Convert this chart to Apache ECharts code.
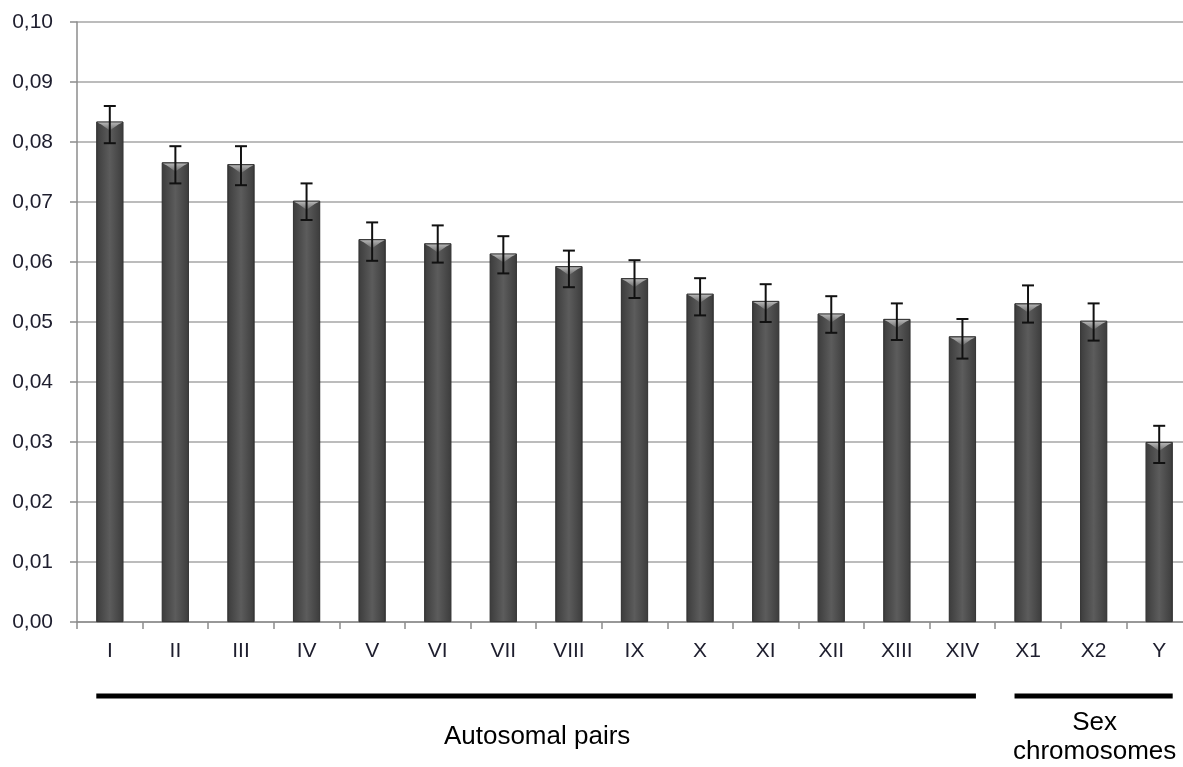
<!DOCTYPE html>
<html>
<head>
<meta charset="utf-8">
<script src="https://cdn.jsdelivr.net/npm/echarts@6/dist/echarts.min.js"></script>
<style>
html,body{margin:0;padding:0;background:#fff;overflow:hidden;width:1183px;height:767px;}
#chart{width:1192px;height:767px;}
</style>
</head>
<body>
<div id="chart"></div>
<script>
var categories = ['I','II','III','IV','V','VI','VII','VIII','IX','X','XI','XII','XIII','XIV','X1','X2','Y'];
var values     = [0.0834,0.0766,0.0763,0.0702,0.0638,0.0631,0.0614,0.0593,0.0573,0.0547,0.0535,0.0514,0.0505,0.0476,0.0531,0.0502,0.0300];
var errHigh    = [0.0860,0.0793,0.0793,0.0731,0.0666,0.0661,0.0643,0.0619,0.0603,0.0573,0.0563,0.0543,0.0531,0.0505,0.0561,0.0531,0.0327];
var errLow     = [0.0798,0.0731,0.0728,0.0670,0.0602,0.0599,0.0581,0.0558,0.0540,0.0511,0.0500,0.0482,0.0470,0.0439,0.0499,0.0469,0.0265];
var yTicks = {min:0, max:0.1, interval:0.01};
var groups = [
  {name:'Autosomal pairs', from:'I', to:'XIV'},
  {name:'Sex\nchromosomes', from:'X1', to:'Y'}
];

var BAR_W = 27;
var FONT = '"Liberation Sans", Arial, sans-serif';

var chart = echarts.init(document.getElementById('chart'));

var option = {
  animation:false,
  backgroundColor:'#fff',
  grid:{left:77, right:0, top:22, bottom:145, containLabel:false},
  xAxis:{
    type:'category',
    data:categories,
    boundaryGap:true,
    axisLine:{show:true, lineStyle:{color:'#8c8c8c', width:1.5}},
    axisTick:{show:true, length:7, lineStyle:{color:'#8c8c8c', width:1.5}},
    axisLabel:{color:'#1e1e2e', fontFamily:FONT, fontSize:21, margin:19}
  },
  yAxis:{
    type:'value',
    min:yTicks.min, max:yTicks.max, interval:yTicks.interval,
    axisLine:{show:true, lineStyle:{color:'#8c8c8c', width:1.5}},
    axisTick:{show:true, length:7, lineStyle:{color:'#8c8c8c', width:1.5}},
    splitLine:{show:true, lineStyle:{color:'#a6a6a6', width:1.5}},
    axisLabel:{color:'#1e1e2e', fontFamily:FONT, fontSize:21, margin:24,
      formatter:function(v){return v.toFixed(2).replace('.',',');}}
  },
  series:[
    {
      type:'bar',
      data:values,
      barWidth:BAR_W,
      itemStyle:{
        color:new echarts.graphic.LinearGradient(0,0,1,0,[
          {offset:0,color:'#3c3c3c'},
          {offset:0.5,color:'#5c5c5c'},
          {offset:1,color:'#3c3c3c'}
        ]),
        borderColor:'#333',
        borderWidth:0.8
      },
      z:2
    },
    {
      type:'custom',
      data:values.map(function(v,i){return [i,v];}),
      z:3,
      renderItem:function(params, api){
        var p = api.coord([api.value(0), api.value(1)]);
        var hw = BAR_W/2 - 1;
        return {
          type:'polygon',
          shape:{points:[[p[0]-hw,p[1]+1],[p[0]+hw,p[1]+1],[p[0]+hw-4,p[1]+3],[p[0],p[1]+9],[p[0]-hw+4,p[1]+3]]},
          style:{fill:new echarts.graphic.LinearGradient(0,0,0,1,[
            {offset:0,color:'#b4b4b4'},{offset:1,color:'#6a6a6a'}])}
        };
      }
    },
    {
      type:'custom',
      data:categories.map(function(c,i){return [i, errLow[i], errHigh[i]];}),
      z:4,
      renderItem:function(params, api){
        var lo = api.coord([api.value(0), api.value(1)]);
        var hi = api.coord([api.value(0), api.value(2)]);
        var cw = 6;
        var st = {stroke:'#111', lineWidth:2};
        return {
          type:'group',
          children:[
            {type:'line', shape:{x1:hi[0],y1:hi[1],x2:lo[0],y2:lo[1]}, style:st},
            {type:'line', shape:{x1:hi[0]-cw,y1:hi[1],x2:hi[0]+cw,y2:hi[1]}, style:st},
            {type:'line', shape:{x1:lo[0]-cw,y1:lo[1],x2:lo[0]+cw,y2:lo[1]}, style:st}
          ]
        };
      }
    }
  ]
};
chart.setOption(option);

// group annotations below the axis, positioned from the category scale
var graphics = [];
var lineY = 696;
groups.forEach(function(g){
  var x1 = chart.convertToPixel({xAxisIndex:0}, g.from) - BAR_W/2;
  var x2 = chart.convertToPixel({xAxisIndex:0}, g.to) + BAR_W/2;
  graphics.push({type:'rect', shape:{x:x1, y:lineY-2.5, width:x2-x1, height:5}, style:{fill:'#000'}});
  graphics.push({type:'text', x:(x1+x2)/2 + 1, y:737,
    style:{text:g.name, font:'26px ' + FONT, fill:'#000', align:'center', verticalAlign:'middle', lineHeight:29}});
});
chart.setOption({graphic:graphics});
</script>
</body>
</html>
